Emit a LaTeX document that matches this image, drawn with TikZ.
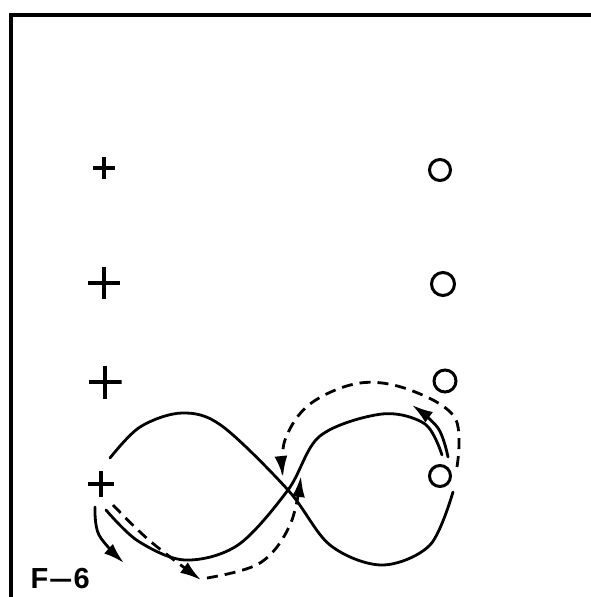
\documentclass[tikz,border=0pt]{standalone}
\usepackage{fontspec}
\setsansfont{Liberation Sans}
\usetikzlibrary{positioning, arrows.meta}

\begin{document}
\begin{tikzpicture}[x=1pt, y=-1pt, >={Latex[length=21pt, width=13pt]},
  plus/.style={inner sep=0pt, minimum size=#1, path picture={
      \draw[line width=3.2pt] (path picture bounding box.north) -- (path picture bounding box.south)
        (path picture bounding box.west) -- (path picture bounding box.east);}},
  ring/.style={circle, draw, line width=3pt, inner sep=0pt, minimum size=#1},
  cut/.style={line width=2.8pt, line cap=round},
  pass/.style={line width=2.8pt, dash pattern=on 11pt off 7pt}]
  \useasboundingbox (0,0) rectangle (591,597);
  % frame
  \draw[line width=3.2pt] (591,15) -- (11,15) -- (11,597);
  % players
  \node[plus=22pt] (p1) at (104,168) {};
  \node[plus=32pt] (p2) at (104,283) {};
  \node[plus=33pt] (p3) at (105,382) {};
  \node[plus=26pt] (p4) at (101,484) {};
  \node[ring=21pt] (c1) at (440,170) {};
  \node[ring=23pt] (c2) at (443,284) {};
  \node[ring=22pt] (c3) at (445,381) {};
  \node[ring=21pt] (c4) at (440,476) {};
  \node[anchor=base west, font=\sffamily\bfseries\fontsize{29}{29}\selectfont] (title) at (27,588)
    {F\kern1pt\scalebox{1.45}[1]{--}\kern1pt 6};
  % figure eight
  \draw[cut] plot[smooth, tension=0.55] coordinates {(110,458) (140,427) (182,413) (222,426)
    (288,490) (330,545) (382,565) (430,545) (453,492)};
  \draw[cut] plot[smooth, tension=0.55] coordinates {(106,510) (138,541) (185,560) (238,545)
    (288,490) (320,436) (382,414) (425,424) (442,455)};
  % short cuts
  \draw[cut, ->] plot[smooth, tension=0.6] coordinates {(95,507) (99,535) (124,563)};
  \draw[cut, ->] plot[smooth, tension=0.6] coordinates {(448,457) (438,428) (412,405)};
  % dashed routes
  \draw[pass, ->] plot[smooth, tension=0.6] coordinates {(113,505) (150,541) (201,580)};
  \draw[pass, ->] plot[smooth, tension=0.6] coordinates {(207,578) (260,563) (290,525) (301,476)};
  \draw[pass, ->] plot[smooth, tension=0.6] coordinates {(457,467) (455,418) (410,390)
    (360,383) (310,404) (285,440) (283,477)};
\end{tikzpicture}
\end{document}
